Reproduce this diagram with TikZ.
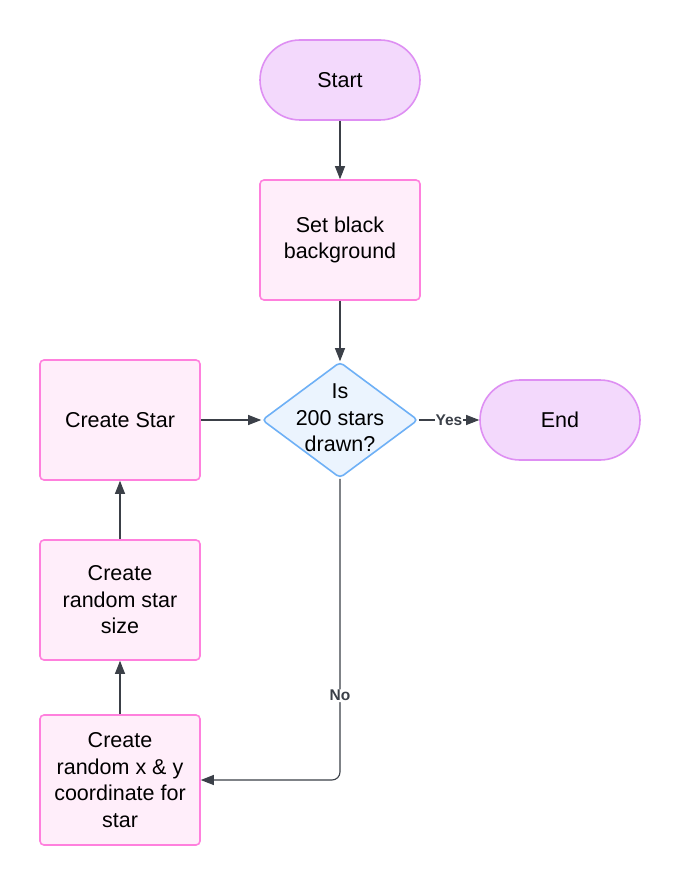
\documentclass[tikz,border=0pt]{standalone}
\usepackage{fontspec}
\setmainfont{Liberation Sans}
\usetikzlibrary{arrows.meta,shapes.geometric}
\definecolor{pillfill}{HTML}{F3D9FC}
\definecolor{pilldraw}{HTML}{DE8FF3}
\definecolor{boxfill}{HTML}{FFEEFA}
\definecolor{boxdraw}{HTML}{FF80DD}
\definecolor{decfill}{HTML}{EBF4FE}
\definecolor{decdraw}{HTML}{6EB0F6}
\definecolor{linegray}{HTML}{3B4048}
\tikzstyle{termnode}=[rectangle,rounded corners=40pt,draw=pilldraw,fill=pillfill,
                      line width=1.6pt,minimum width=160pt,minimum height=80pt,
                      inner sep=0pt,align=center]
\tikzstyle{procbox}=[rectangle,rounded corners=4pt,draw=boxdraw,fill=boxfill,
                     line width=1.6pt,minimum width=160pt,minimum height=120pt,
                     inner sep=0pt,align=center]
\tikzstyle{decnode}=[diamond,rounded corners=4pt,draw=decdraw,fill=decfill,
                     line width=1.6pt,minimum width=156pt,minimum height=116pt,
                     inner sep=0pt]
\tikzstyle{flowline}=[draw=linegray,line width=1.1pt,
                      -{Triangle[length=13pt,width=10pt]}]
\tikzstyle{flowlabel}=[fill=white,text=linegray,inner sep=1pt,
                       font=\fontsize{15.5}{18}\selectfont\bfseries]

\begin{document}
\begin{tikzpicture}[x=1pt,y=-1pt,font=\fontsize{21.5}{26.5}\selectfont]
    \useasboundingbox[fill=white] (0,0) rectangle (680,885);
    \node (start) at (340, 80) [termnode]{Start};
    \node (bg)    at (340,240) [procbox]{Set black\\background};
    \node (dec)   at (340,420) [decnode]{};
    \node (dect)  at (340,418) [align=center]{Is\\200 stars\\drawn?};
    \node (fin)   at (560,420) [termnode]{End};
    \node (star)  at (120,420) [procbox]{Create Star};
    \node (size)  at (120,600) [procbox]{Create\\random star\\size};
    \node (pos)   at (120,780) [procbox,minimum height=130pt]{Create\\random x \& y\\coordinate for\\star};
    \coordinate (turn) at (340,780);
    \draw[flowline] (start) -- (bg);
    \draw[flowline] (bg) -- (dec);
    \draw[flowline] (star) -- (dec);
    \draw[flowline] (dec) -- node[flowlabel]{Yes} (fin);
    \draw[flowline,rounded corners=8pt] (dec) -- node[flowlabel,pos=0.72]{No} (turn) -- (pos);
    \draw[flowline] (size) -- (star);
    \draw[flowline] (pos) -- (size);
  \end{tikzpicture}
\end{document}
